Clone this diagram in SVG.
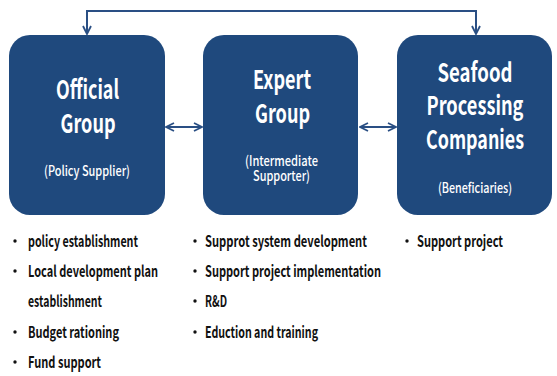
<svg xmlns="http://www.w3.org/2000/svg" width="557" height="376" viewBox="0 0 557 376">
  <defs>
    <style>
      .box { fill: #1F497D; }
      .title { font-family: "Noto Sans CJK KR", "Noto Sans", sans-serif; font-size: 26px; font-weight: bold; fill: #FFFFFF; text-anchor: middle; }
      .sub { font-family: "Noto Sans CJK KR", "Noto Sans", sans-serif; font-size: 14px; font-weight: 500; fill: #FFFFFF; text-anchor: middle; }
      .item { font-family: "Noto Sans CJK KR", "Noto Sans", sans-serif; font-size: 15.5px; font-weight: bold; fill: #111111; }
      .dot { fill: #111111; }
      .link { fill: none; stroke: #2A4F84; stroke-width: 2; }
    </style>
    <marker id="head" viewBox="0 0 10 10" refX="9" refY="5" markerWidth="10" markerHeight="10" markerUnits="userSpaceOnUse" orient="auto-start-reverse">
      <path d="M1,1 L9,5 L1,9" fill="none" stroke="#2A4F84" stroke-width="1.8"/>
    </marker>
  </defs>

  <!-- connectors -->
  <g id="connectors">
    <path class="link" d="M87,34 L87,11 L476,11 L476,34" marker-start="url(#head)" marker-end="url(#head)"/>
    <line class="link" x1="166" y1="127" x2="202" y2="127" marker-start="url(#head)" marker-end="url(#head)"/>
    <line class="link" x1="360" y1="127" x2="396" y2="127" marker-start="url(#head)" marker-end="url(#head)"/>
  </g>

  <!-- Official Group -->
  <g id="official-group">
    <rect class="box" x="9" y="35" width="156" height="180" rx="21" ry="21"/>
    <text class="title" x="87.5" y="99" textLength="63" lengthAdjust="spacingAndGlyphs">Official</text>
    <text class="title" x="88" y="133" textLength="55" lengthAdjust="spacingAndGlyphs">Group</text>
    <text class="sub" x="87" y="176" textLength="86" lengthAdjust="spacingAndGlyphs">(Policy Supplier)</text>
  </g>

  <!-- Expert Group -->
  <g id="expert-group">
    <rect class="box" x="203" y="35" width="155" height="180" rx="21" ry="21"/>
    <text class="title" x="282" y="89" textLength="58" lengthAdjust="spacingAndGlyphs">Expert</text>
    <text class="title" x="282.5" y="123" textLength="55" lengthAdjust="spacingAndGlyphs">Group</text>
    <text class="sub" x="281.5" y="166" textLength="73" lengthAdjust="spacingAndGlyphs">(Intermediate</text>
    <text class="sub" x="281.5" y="181" textLength="57" lengthAdjust="spacingAndGlyphs">Supporter)</text>
  </g>

  <!-- Seafood Processing Companies -->
  <g id="seafood-companies">
    <rect class="box" x="397" y="35" width="155" height="180" rx="21" ry="21"/>
    <text class="title" x="475" y="82" textLength="75" lengthAdjust="spacingAndGlyphs">Seafood</text>
    <text class="title" x="475" y="115" textLength="97" lengthAdjust="spacingAndGlyphs">Processing</text>
    <text class="title" x="475" y="149" textLength="98" lengthAdjust="spacingAndGlyphs">Companies</text>
    <text class="sub" x="475" y="193" textLength="74" lengthAdjust="spacingAndGlyphs">(Beneficiaries)</text>
  </g>

  <!-- activities of the official group -->
  <g id="official-tasks">
    <circle class="dot" cx="15" cy="241" r="1.7"/>
    <text class="item" x="28" y="247" textLength="110" lengthAdjust="spacingAndGlyphs">policy establishment</text>
    <circle class="dot" cx="15" cy="271" r="1.7"/>
    <text class="item" x="28" y="277" textLength="130" lengthAdjust="spacingAndGlyphs">Local development plan</text>
    <text class="item" x="28" y="307" textLength="74" lengthAdjust="spacingAndGlyphs">establishment</text>
    <circle class="dot" cx="15" cy="332" r="1.7"/>
    <text class="item" x="28" y="338" textLength="91" lengthAdjust="spacingAndGlyphs">Budget rationing</text>
    <circle class="dot" cx="15" cy="362" r="1.7"/>
    <text class="item" x="28" y="368" textLength="73" lengthAdjust="spacingAndGlyphs">Fund support</text>
  </g>

  <!-- activities of the expert group -->
  <g id="expert-tasks">
    <circle class="dot" cx="195" cy="241" r="1.7"/>
    <text class="item" x="205" y="247" textLength="162" lengthAdjust="spacingAndGlyphs">Supprot system development</text>
    <circle class="dot" cx="195" cy="271" r="1.7"/>
    <text class="item" x="205" y="277" textLength="176" lengthAdjust="spacingAndGlyphs">Support project implementation</text>
    <circle class="dot" cx="195" cy="301" r="1.7"/>
    <text class="item" x="205" y="307" textLength="22" lengthAdjust="spacingAndGlyphs">R&amp;D</text>
    <circle class="dot" cx="195" cy="332" r="1.7"/>
    <text class="item" x="205" y="338" textLength="113" lengthAdjust="spacingAndGlyphs">Eduction and training</text>
  </g>

  <!-- activities of the companies -->
  <g id="company-tasks">
    <circle class="dot" cx="407" cy="241" r="1.7"/>
    <text class="item" x="417" y="247" textLength="86" lengthAdjust="spacingAndGlyphs">Support project</text>
  </g>
</svg>
